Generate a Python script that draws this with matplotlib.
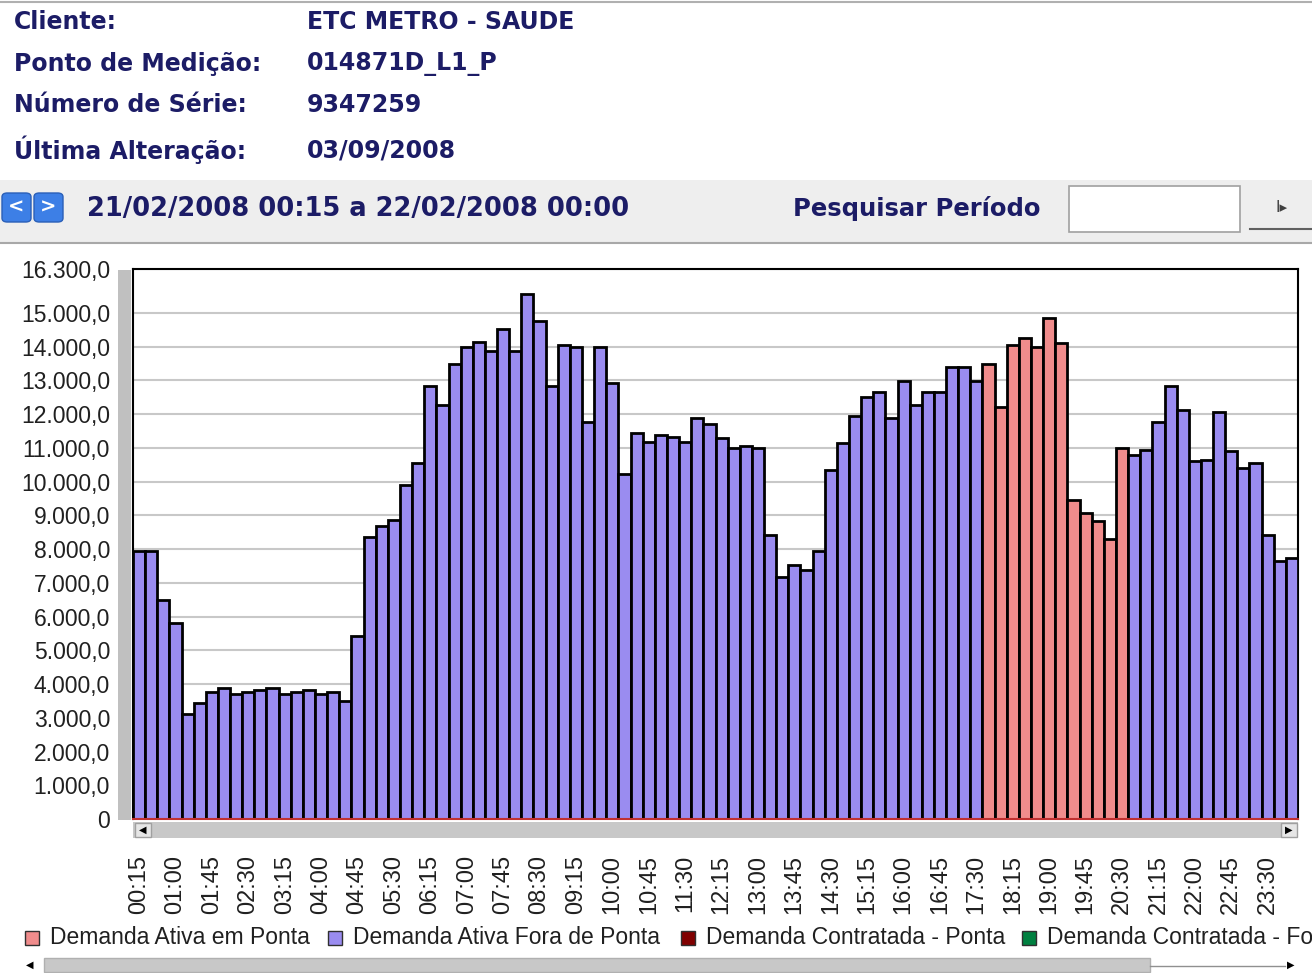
import matplotlib
matplotlib.use("Agg")
import matplotlib.pyplot as plt
from matplotlib.patches import Rectangle, FancyBboxPatch

# dados de demanda (kW) a cada 15 minutos, 21/02/2008 00:15 -> 22/02/2008 00:00
horarios = ["%02d:%02d" % (((i + 1) * 15) // 60, ((i + 1) * 15) % 60) for i in range(96)]
demanda = [7950, 7950, 6500, 5800, 3120, 3440, 3750, 3880, 3690, 3750, 3820, 3880,
           3690, 3750, 3820, 3690, 3750, 3490, 5420, 8360, 8670, 8870, 9900, 10550,
           12840, 12270, 13480, 13990, 14140, 13870, 14520, 13870, 15550, 14760, 12840, 14050,
           14000, 11760, 14000, 12910, 10220, 11430, 11160, 11370, 11310, 11160, 11880, 11700,
           11290, 10990, 11040, 10990, 8430, 7160, 7540, 7370, 7930, 10350, 11130, 11950,
           12520, 12660, 11880, 12990, 12270, 12640, 12640, 13410, 13410, 12970, 13480, 12200,
           14050, 14250, 13980, 14840, 14120, 9460, 9070, 8820, 8300, 10990, 10790, 10940,
           11760, 12840, 12130, 10600, 10650, 12070, 10920, 10400, 10550, 8420, 7640, 7730]
ponta_inicio, ponta_fim = "17:45", "20:30"
yticks = [0, 1000, 2000, 3000, 4000, 5000, 6000, 7000, 8000, 9000, 10000,
          11000, 12000, 13000, 14000, 15000, 16300]
legenda = ["Demanda Ativa em Ponta", "Demanda Ativa Fora de Ponta",
           "Demanda Contratada - Ponta", "Demanda Contratada - Fora de Ponta"]
cores_leg = ["#f08c8c", "#9a8cf0", "#800000", "#008040"]

W, H = 1312, 973
NAVY = "#1c1c66"

def fx(x):
    return x / W

def fy(y):
    return 1 - y / H

fig = plt.figure(figsize=(W / 100, H / 100), dpi=100)
fig.patch.set_facecolor("white")

# cabecalho
fig.add_artist(plt.Line2D([0, 1], [fy(2), fy(2)], color="#b0b0b0", lw=1.5))
info = [("Cliente:", "ETC METRO - SAUDE", 22), ("Ponto de Medição:", "014871D_L1_P", 64),
        ("Número de Série:", "9347259", 105), ("Última Alteração:", "03/09/2008", 150)]
for rot, val, y in info:
    fig.text(fx(14), fy(y), rot, fontsize=17, fontweight="bold", color=NAVY,
             family="DejaVu Sans", va="center")
    fig.text(fx(307), fy(y), val, fontsize=17, fontweight="bold", color=NAVY,
             family="DejaVu Sans", va="center")

fig.add_artist(Rectangle((0, fy(243)), 1, (243 - 180) / H, transform=fig.transFigure,
                         facecolor="#eeeeee", edgecolor="none"))
fig.add_artist(plt.Line2D([0, 1], [fy(243), fy(243)], color="#a8a8a8", lw=1.5))
for x0, s in [(2, "<"), (34, ">")]:
    fig.add_artist(FancyBboxPatch((fx(x0), fy(222)), 29 / W, 29 / H, boxstyle="round,pad=0,rounding_size=0.004",
                                  transform=fig.transFigure, facecolor="#3d7fe6", edgecolor="#2a5fb8", lw=1))
    fig.text(fx(x0 + 14.5), fy(207), s, fontsize=14, fontweight="bold", color="white",
             ha="center", va="center")
fig.text(fx(87), fy(209), "21/02/2008 00:15 a 22/02/2008 00:00", fontsize=18.5, fontweight="bold",
         color=NAVY, family="DejaVu Sans", va="center")
fig.text(fx(793), fy(209), "Pesquisar Período", fontsize=17.5, fontweight="bold",
         color=NAVY, family="DejaVu Sans", va="center")
fig.add_artist(Rectangle((fx(1069), fy(232)), 171 / W, 46 / H, transform=fig.transFigure,
                         facecolor="white", edgecolor="#a0a0a0", lw=1.2))
fig.add_artist(plt.Line2D([fx(1250), 1], [fy(229), fy(229)], color="#606060", lw=1.5))
fig.text(fx(1282), fy(207), "I▸", fontsize=11, color="#404040", ha="center", va="center")

# grafico
ax = fig.add_axes([fx(133), fy(819), (1298 - 133) / W, (819 - 269) / H])
x = list(range(len(demanda)))
i0, i1 = horarios.index(ponta_inicio), horarios.index(ponta_fim)
cores = [cores_leg[0] if i0 <= i <= i1 else cores_leg[1] for i in x]
ax.bar(x, demanda, width=1.0, color=cores, edgecolor="black", linewidth=2.0, zorder=3)
ax.set_xlim(-0.5, len(demanda) - 0.5)
ax.set_ylim(0, 16300)
ax.set_yticks(yticks)
ax.set_yticklabels(["0" if v == 0 else f"{v:,.1f}".replace(",", "X").replace(".", ",").replace("X", ".")
                    for v in yticks], fontsize=16.5, family="Liberation Sans", color="#202020")
ax.yaxis.grid(True, color="#c8c8c8", lw=1.5, zorder=0)
ax.tick_params(axis="y", length=0, pad=16.5)
ax.set_xticks(x[::3])
ax.set_xticklabels(horarios[::3], rotation=90, fontsize=17, family="Liberation Sans", color="#202020")
ax.tick_params(axis="x", length=0, pad=26)
for s in ["top", "right", "left"]:
    ax.spines[s].set_color("black")
    ax.spines[s].set_linewidth(1.5)
ax.spines["bottom"].set_color("#c03030")
ax.spines["bottom"].set_linewidth(1.5)
ax.spines["bottom"].set_zorder(5)

# barra 3D lateral e barra de rolagem
fig.add_artist(Rectangle((fx(118), fy(820)), 13 / W, (820 - 270) / H, transform=fig.transFigure,
                         facecolor="#c0c0c0", edgecolor="none"))
fig.add_artist(Rectangle((fx(133), fy(838)), (1298 - 133) / W, 16 / H, transform=fig.transFigure,
                         facecolor="#c8c8c8", edgecolor="none"))
for xb, s in [(135, "◀"), (1281, "▶")]:
    fig.add_artist(Rectangle((fx(xb), fy(837)), 16 / W, 14 / H, transform=fig.transFigure,
                             facecolor="#e6e6e6", edgecolor="#a0a0a0", lw=1))
    fig.text(fx(xb + 8), fy(830), s, fontsize=7, color="black", ha="center", va="center",
             family="DejaVu Sans")

# legenda
for xl, cor, txt in zip([25, 328, 681, 1022], cores_leg, legenda):
    fig.add_artist(Rectangle((fx(xl), fy(945)), 14 / W, 14 / H, transform=fig.transFigure,
                             facecolor=cor, edgecolor="#303030", lw=1))
    fig.text(fx(xl + 25), fy(937), txt, fontsize=16.5, family="Liberation Sans",
             color="#202020", va="center")

fig.add_artist(Rectangle((fx(44), fy(972)), (1150 - 44) / W, 14 / H, transform=fig.transFigure,
                         facecolor="#c8c8c8", edgecolor="#b0b0b0", lw=1))
fig.add_artist(plt.Line2D([fx(1150), fx(1285)], [fy(966), fy(966)], color="#909090", lw=1))
fig.text(fx(30), fy(965), "◀", fontsize=7, ha="center", va="center", family="DejaVu Sans")
fig.text(fx(1291), fy(965), "▶", fontsize=7, ha="center", va="center", family="DejaVu Sans")

fig.savefig("out.png", dpi=100)
